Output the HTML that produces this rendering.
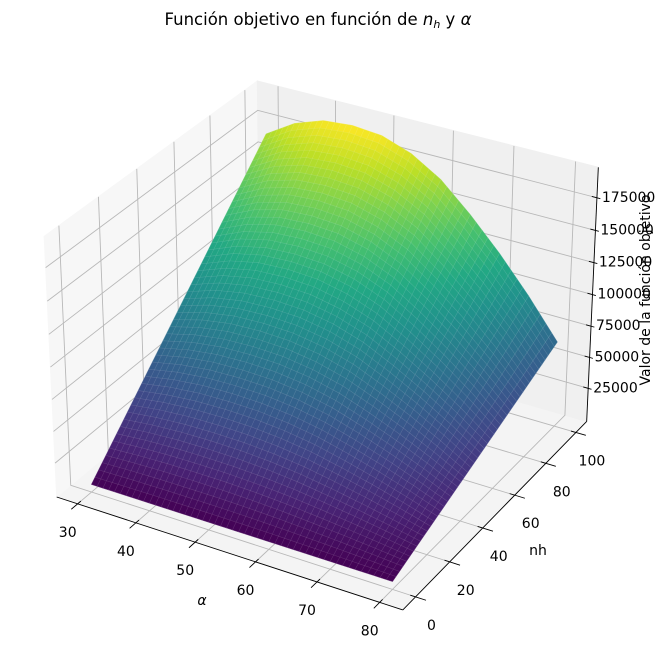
<!DOCTYPE html>
<html><head><meta charset="utf-8"><style>
html,body{margin:0;padding:0;background:#fff;}
svg{display:block;font-family:"DejaVu Sans","Liberation Sans",sans-serif;}
</style></head><body>
<svg id="chart" width="659" height="659" viewBox="0 0 659 659" xmlns="http://www.w3.org/2000/svg">
<rect width="659" height="659" fill="#fff"/>
<text x="318" y="25" text-anchor="middle" font-size="16.5" fill="#000">Función objetivo en función de <tspan font-style="italic">n</tspan><tspan font-style="italic" font-size="11" dy="3">h</tspan><tspan dy="-3"> y </tspan><tspan font-style="italic">α</tspan></text>
<g id="panes"></g>
<g id="grid"></g>
<g id="surf"></g>
<g id="axes"></g>
<text x="202" y="605" text-anchor="middle" font-size="14" font-style="italic">α</text>
<text x="538" y="555" text-anchor="middle" font-size="14">nh</text>
<text transform="translate(650,290) rotate(-90)" text-anchor="middle" font-size="14">Valor de la función objetivo</text>
</svg>
<script>
const alphaVals = [30,35,40,45,50,55,60,65,70,75,80];
const nhVals = [0,10,20,30,40,50,60,70,80,90,100];
const zGrid = [
 [4,4,4,4,4,4,4,4,4,4,4],
 [20.4,21.8,22.6,22.8,22.6,21.8,20.4,18.3,15.9,13.2,10.2],
 [36.8,39.6,41.2,41.6,41.2,39.6,36.8,32.6,27.8,22.4,16.4],
 [53.2,57.4,59.8,60.4,59.8,57.4,53.2,46.9,39.7,31.6,22.6],
 [69.6,75.2,78.4,79.2,78.4,75.2,69.6,61.2,51.6,40.8,28.8],
 [86,93,97,98,97,93,86,75.5,63.5,50,35],
 [102.4,110.8,115.6,116.8,115.6,110.8,102.4,89.8,75.4,59.2,41.2],
 [118.8,128.6,134.2,135.6,134.2,128.6,118.8,104.1,87.3,68.4,47.4],
 [135.2,146.4,152.8,154.4,152.8,146.4,135.2,118.4,99.2,77.6,53.6],
 [151.6,164.2,171.4,173.2,171.4,164.2,151.6,132.7,111.1,86.8,59.8],
 [168,182,190,192,190,182,168,147,123,96,66]
].map(r=>r.map(v=>v*1000));
const xTicks = [30,40,50,60,70,80];
const yTicks = [0,20,40,60,80,100];
const zTicks = [25000,50000,75000,100000,125000,150000,175000];

const NS="http://www.w3.org/2000/svg";
function mk(tag, attrs, parent){const e=document.createElementNS(NS,tag);for(const k in attrs)e.setAttribute(k,attrs[k]);parent.appendChild(e);return e;}

const xmn=Math.min(...alphaVals), xmx=Math.max(...alphaVals);
const ymn=Math.min(...nhVals), ymx=Math.max(...nhVals);
let zmn=Infinity,zmx=-Infinity; zGrid.forEach(r=>r.forEach(v=>{zmn=Math.min(zmn,v);zmx=Math.max(zmx,v);}));
function lim(a,b,m){const r=b-a;return [a-m*r,b+m*r];}
const xl=lim(xmn,xmx,0.05), yl=lim(ymn,ymx,0.05), zl=lim(zmn,zmx,0.011);
function pane(l){const d=(l[1]-l[0])/48;return [l[0]-d,l[1]+d];}
const xp=pane(xl), yp=pane(yl), zp=pane(zl);

const nA=Math.hypot(4,4,3), A=[4,4,3].map(v=>v*1.8294640721620434/nA);
const el=30*Math.PI/180, az=-60*Math.PI/180;
const u=[Math.cos(el)*Math.cos(az),Math.cos(el)*Math.sin(az),Math.sin(el)];
const R=A.map(v=>v/2), E=R.map((v,i)=>v+10*u[i]);
let vv=[-u[1],u[0],0]; const vn=Math.hypot(...vv); vv=vv.map(q=>q/vn);
const up=[u[1]*vv[2]-u[2]*vv[1],u[2]*vv[0]-u[0]*vv[2],u[0]*vv[1]-u[1]*vv[0]];
function dot(a,b){return a[0]*b[0]+a[1]*b[1]+a[2]*b[2];}
function raw(x,y,z){
  const p=[(x-xl[0])/(xl[1]-xl[0])*A[0],(y-yl[0])/(yl[1]-yl[0])*A[1],(z-zl[0])/(zl[1]-zl[0])*A[2]];
  const d=p.map((q,i)=>q-E[i]); const zc=dot(d,u);
  return [dot(d,vv)/-zc, dot(d,up)/-zc, zc];
}
const fitPts=[
 [[xp[0],yp[0],zp[0]],[57,497]],[[xp[1],yp[0],zp[0]],[403,610]],
 [[xp[1],yp[1],zp[0]],[587,422]],[[xp[1],yp[1],zp[1]],[598,167]],
 [[xp[0],yp[1],zp[1]],[257,82]],[[xp[0],yp[0],zp[1]],[44,235]]];
function reg(xs,ys){const n=xs.length;const mx=xs.reduce((a,b)=>a+b)/n,my=ys.reduce((a,b)=>a+b)/n;let sxy=0,sxx=0;for(let i=0;i<n;i++){sxy+=(xs[i]-mx)*(ys[i]-my);sxx+=(xs[i]-mx)**2;}const s=sxy/sxx;return [my-s*mx,s];}
const rp=fitPts.map(f=>raw(...f[0]));
const fx=reg(rp.map(r=>r[0]),fitPts.map(f=>f[1][0]));
const fy=reg(rp.map(r=>r[1]),fitPts.map(f=>f[1][1]));
function P(x,y,z){const r=raw(x,y,z);return [fx[0]+fx[1]*r[0], fy[0]+fy[1]*r[1], r[2]];}
function pts(arr){return arr.map(p=>p[0].toFixed(2)+","+p[1].toFixed(2)).join(" ");}

const panes=document.getElementById('panes');
const floor=mk('polygon',{points:pts([P(xp[0],yp[0],zp[0]),P(xp[1],yp[0],zp[0]),P(xp[1],yp[1],zp[0]),P(xp[0],yp[1],zp[0])]),fill:'#f4f4f4',stroke:'#f4f4f4'},panes);


const left=mk('polygon',{points:pts([P(xp[0],yp[0],zp[0]),P(xp[0],yp[1],zp[0]),P(xp[0],yp[1],zp[1]),P(xp[0],yp[0],zp[1])]),fill:'#f7f7f7',stroke:'#f7f7f7'},panes);


const back=mk('polygon',{points:pts([P(xp[0],yp[1],zp[0]),P(xp[1],yp[1],zp[0]),P(xp[1],yp[1],zp[1]),P(xp[0],yp[1],zp[1])]),fill:'#f0f0f0',stroke:'#f0f0f0'},panes);



const grid=document.getElementById('grid');
function gl3(a,b,c,name){const l=mk('polyline',{points:pts([a,b,c]),stroke:'#b8b8b8','stroke-width':0.9,fill:'none'},grid);}
xTicks.forEach(x=>gl3(P(x,yp[0],zp[0]),P(x,yp[1],zp[0]),P(x,yp[1],zp[1]),'x-gridline'));
yTicks.forEach(y=>gl3(P(xp[1],y,zp[0]),P(xp[0],y,zp[0]),P(xp[0],y,zp[1]),'y-gridline'));
zTicks.forEach(z=>gl3(P(xp[0],yp[0],z),P(xp[0],yp[1],z),P(xp[1],yp[1],z),'z-gridline'));

const vir=['#440154','#482475','#414487','#355f8d','#2a788e','#21918c','#22a884','#44bf70','#7ad151','#bddf26','#fde725'].map(h=>[1,3,5].map(i=>parseInt(h.substr(i,2),16)));
function cmap(t){t=Math.max(0,Math.min(1,t))*10;const i=Math.min(9,Math.floor(t)),f=t-i;const c=vir[i].map((v,k)=>Math.round(v+(vir[i+1][k]-v)*f));return 'rgb('+c.join(',')+')';}

const SUB=5;
function zAt(ia,fa,jn,fn){
  const a1=Math.min(ia+1,alphaVals.length-1), n1=Math.min(jn+1,nhVals.length-1);
  const z00=zGrid[jn][ia],z10=zGrid[jn][a1],z01=zGrid[n1][ia],z11=zGrid[n1][a1];
  return (z00*(1-fa)+z10*fa)*(1-fn)+(z01*(1-fa)+z11*fa)*fn;
}
const NA=(alphaVals.length-1)*SUB, NN=(nhVals.length-1)*SUB;
const V=[];
for(let j=0;j<=NN;j++){V.push([]);for(let i=0;i<=NA;i++){
  const ia=Math.min(Math.floor(i/SUB),alphaVals.length-2), fa=i/SUB-ia;
  const jn=Math.min(Math.floor(j/SUB),nhVals.length-2), fn=j/SUB-jn;
  const x=alphaVals[ia]+(alphaVals[ia+1]-alphaVals[ia])*fa;
  const y=nhVals[jn]+(nhVals[jn+1]-nhVals[jn])*fn;
  const z=zAt(ia,fa,jn,fn);
  V[j].push({p:P(x,y,z),z:z});
}}
const quads=[];
for(let j=0;j<NN;j++)for(let i=0;i<NA;i++){
  const c=[V[j][i],V[j][i+1],V[j+1][i+1],V[j+1][i]];
  quads.push({c:c,d:(c[0].p[2]+c[1].p[2]+c[2].p[2]+c[3].p[2])/4,z:(c[0].z+c[1].z+c[2].z+c[3].z)/4});
}
quads.sort((a,b)=>a.d-b.d);
const surf=document.getElementById('surf');
quads.forEach(q=>{
  const col=cmap((q.z-zmn)/(zmx-zmn));
  const pg=mk('polygon',{points:pts(q.c.map(c=>c.p)),fill:col,stroke:col,'stroke-width':0.35},surf);
  
  
});
for(let j=0;j<=NN;j++){const l=mk('polyline',{points:pts(V[j].map(c=>c.p)),stroke:'rgba(255,255,255,0.13)','stroke-width':0.6,fill:'none'},surf);}
for(let i=0;i<=NA;i++){const l=mk('polyline',{points:pts(V.map(r=>r[i].p)),stroke:'rgba(255,255,255,0.13)','stroke-width':0.6,fill:'none'},surf);}

const axes=document.getElementById('axes');
function ln(a,b,name){const l=mk('line',{x1:a[0],y1:a[1],x2:b[0],y2:b[1],stroke:'#000','stroke-width':0.9},axes);}
function tx(p,s,anchor,name){const t=mk('text',{x:p[0].toFixed(1),y:p[1].toFixed(1),'text-anchor':anchor,'dominant-baseline':'central','font-size':14,fill:'#000'},axes);t.textContent=s;}
ln(P(xp[0],yp[0],zp[0]),P(xp[1],yp[0],zp[0]),'x-axis-line');
ln(P(xp[1],yp[0],zp[0]),P(xp[1],yp[1],zp[0]),'y-axis-line');
ln(P(xp[1],yp[1],zp[0]),P(xp[1],yp[1],zp[1]),'z-axis-line');
const yr=yl[1]-yl[0], xr=xl[1]-xl[0];
xTicks.forEach(x=>{ln(P(x,yp[0]+0.015*yr,zp[0]),P(x,yp[0]-0.03*yr,zp[0]),'x-tick');const a=P(x,yp[0],zp[0]);tx([a[0]-10,a[1]+29],String(x),'middle','x-tick-label');});
yTicks.forEach(y=>{ln(P(xp[1]-0.015*xr,y,zp[0]),P(xp[1]+0.03*xr,y,zp[0]),'y-tick');const a=P(xp[1],y,zp[0]);tx([a[0]+16,a[1]+29],String(y),'middle','y-tick-label');});
zTicks.forEach(z=>{ln(P(xp[1]-0.015*xr,yp[1],z),P(xp[1]+0.01*xr,yp[1],z),'z-tick');const a=P(xp[1],yp[1],z);tx([a[0]+5,a[1]],String(z),'start','z-tick-label');});
</script>
</body></html>
